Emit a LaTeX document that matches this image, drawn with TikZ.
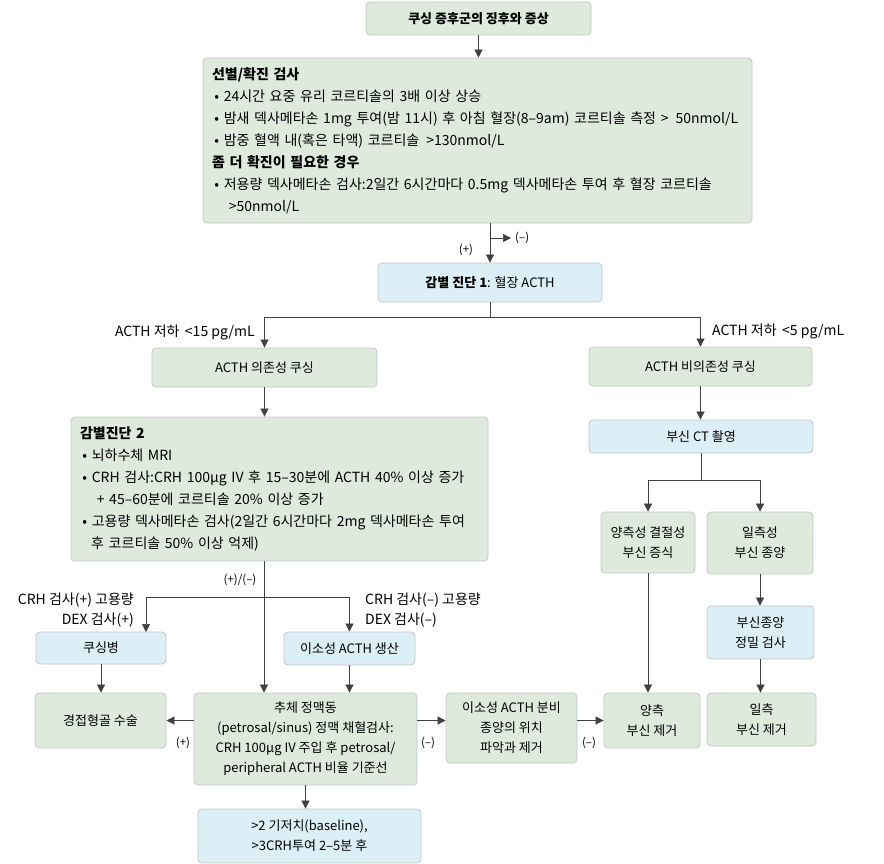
\documentclass[tikz,border=0pt]{standalone}
\usepackage{fontspec}
\setmainfont{Noto Sans CJK KR}
\usetikzlibrary{arrows.meta}

\definecolor{boxgreen}{HTML}{DDEADC}
\definecolor{boxblue}{HTML}{DCEEF6}
\definecolor{boxline}{HTML}{C6C6C6}
\tikzset{
  gbox/.style={draw=boxline,fill=boxgreen,rounded corners=4pt,line width=0.8pt,align=center,inner sep=0pt},
  bbox/.style={gbox,fill=boxblue},
  listbox/.style={gbox,align=left,inner xsep=9pt,font=\fontsize{14}{22}\selectfont},
  link/.style={draw=black!75,line width=0.7pt},
  tag/.style={inner sep=1pt,font=\fontsize{11.5}{13}\selectfont},
  cond/.style={inner sep=1pt,font=\fontsize{14}{20}\selectfont},
}

\begin{document}
\begin{tikzpicture}[x=1pt,y=-1pt,>={Triangle[length=8pt,width=8pt]},font=\fontsize{13}{20}\selectfont]
  \useasboundingbox (0,0) rectangle (884,864);

  % boxes
  \node[gbox,minimum width=225pt,minimum height=33pt] (top) at (478.5,18.5) {\textbf{쿠싱 증후군의 징후와 증상}};
  \node[listbox,text width=531pt,minimum height=165pt] (screen) at (477.5,140.5) {%
    \textbf{선별/확진 검사}\\
    \,• 24시간 요중 유리 코르티솔의 3배 이상 상승\\
    \,• 밤새 덱사메타손 1mg 투여(밤 11시) 후 아침 혈장(8–9am) 코르티솔 측정 > \,50nmol/L\\
    \,• 밤중 혈액 내(혹은 타액) 코르티솔 \,>130nmol/L\\
    \textbf{좀 더 확진이 필요한 경우}\\
    \,• 저용량 덱사메타손 검사:2일간 6시간마다 0.5mg 덱사메타손 투여 후 혈장 코르티솔\\
    \hspace*{1.2em}>50nmol/L};
  \node[bbox,minimum width=224pt,minimum height=39pt] (dd1) at (490,282.5) {\textbf{감별 진단 1}: 혈장 ACTH};
  \node[gbox,minimum width=225pt,minimum height=39pt] (dep) at (264.5,367.5) {ACTH 의존성 쿠싱};
  \node[gbox,minimum width=223pt,minimum height=39pt] (indep) at (700.5,366.5) {ACTH 비의존성 쿠싱};
  \node[listbox,text width=399pt,minimum height=144pt] (dd2) at (279.5,489) {%
    \textbf{감별진단 2}\\
    \,• 뇌하수체 MRI\\
    \,• CRH 검사:CRH 100µg IV 후 15–30분에 ACTH 40\% 이상 증가\\
    \hspace*{1.2em}+ 45–60분에 코르티솔 20\% 이상 증가\\
    \,• 고용량 덱사메타손 검사(2일간 6시간마다 2mg 덱사메타손 투여\\
    \hspace*{0.8em}후 코르티솔 50\% 이상 억제)};
  \node[bbox,minimum width=224pt,minimum height=33pt] (ct) at (701,436.5) {부신 CT 촬영};
  \node[gbox,minimum width=94pt,minimum height=61pt] (bilat) at (648,542.5) {양측성 결절성\\부신 증식};
  \node[gbox,minimum width=106pt,minimum height=62pt] (unilat) at (760,543) {일측성\\부신 종양};
  \node[bbox,minimum width=107pt,minimum height=53pt] (adrtest) at (760.5,632.5) {부신종양\\정밀 검사};
  \node[gbox,minimum width=96pt,minimum height=55pt] (bilrem) at (652,720.5) {양측\\부신 제거};
  \node[gbox,minimum width=109pt,minimum height=53pt] (unirem) at (761.5,719.5) {일측\\부신 제거};
  \node[bbox,minimum width=130pt,minimum height=32pt] (disease) at (101,648) {쿠싱병};
  \node[bbox,minimum width=131pt,minimum height=33pt] (ectopic) at (349.5,648.5) {이소성 ACTH 생산};
  \node[gbox,minimum width=131pt,minimum height=55pt] (surgery) at (100.5,720.5) {경접형골 수술};
  \node[gbox,minimum width=223pt,minimum height=92pt] (ipss) at (305.5,739) {추체 정맥동\\(petrosal/sinus) 정맥 채혈검사:\\CRH 100µg IV 주입 후 petrosal/\\peripheral ACTH 비율 기준선};
  \node[gbox,minimum width=131pt,minimum height=70pt] (ectumor) at (511.5,728) {이소성 ACTH 분비\\종양의 위치\\파악과 제거};
  \node[bbox,minimum width=223pt,minimum height=54pt] (crit) at (309.5,836) {>2 기저치(baseline),\\>3CRH투여 2–5분 후};

  % branch points
  \coordinate (b0) at (490,238);
  \coordinate (neg0) at (511,238);
  \coordinate (b1) at (490,317);
  \coordinate (b2) at (264,597);
  \coordinate (b3) at (701,480);
  \coordinate (cdin) at (146,632);

  % connectors
  \draw[link,->] (top) -- (top |- screen.north);
  \draw[link,->] (dd1 |- screen.south) -- (dd1.north);
  \draw[link,->] (b0) -- (neg0);
  \draw[link] (dd1.south) -- (b1);
  \draw[link,->] (b1) -| (dep);
  \draw[link,->] (b1) -| (indep);
  \draw[link,->] (dep.south) -- (dep |- dd2.north);
  \draw[link,->] (indep.south) -- (indep |- ct.north);
  \draw[link] (ct.south) -- (b3);
  \draw[link,->] (b3) -| (bilat);
  \draw[link,->] (b3) -| (unilat);
  \draw[link,->] (unilat.south) -- (unilat.south |- adrtest.north);
  \draw[link,->] (adrtest.south) -- (adrtest.south |- unirem.north);
  \draw[link,->] (bilat) -- (bilat |- bilrem.north);
  \draw[link,->] (b2 |- dd2.south) -- (b2 |- ipss.north);
  \draw[link,->] (b2) -| (cdin);
  \draw[link,->] (b2) -| (ectopic);
  \draw[link,->] (disease) -- (disease |- surgery.north);
  \draw[link,->] (ectopic) -- (ectopic |- ipss.north);
  \draw[link,->] (ipss.west |- surgery) -- (surgery.east);
  \draw[link,->] (ipss.east |- surgery) -- (ectumor.west |- surgery);
  \draw[link,->] (ectumor.east |- surgery) -- (bilrem.west |- surgery);
  \draw[link,->] (ipss.south) -- (ipss.south |- crit.north);

  % labels
  \node[tag] (pos0) at (466,250) {(+)};
  \node[tag,anchor=west] (neg0t) at (514,238) {(–)};
  \node[cond,anchor=east] (lowA) at (256,332) {ACTH 저하 \,<15 pg/mL};
  \node[cond,anchor=west] (lowB) at (711,331) {ACTH 저하 \,<5 pg/mL};
  \node[tag] (pm) at (240,580) {(+)/(–)};
  \node[cond,anchor=east,align=right] (crhpos) at (135,610) {CRH 검사(+) 고용량\\DEX 검사(+)};
  \node[cond,anchor=west,align=left] (crhneg) at (364,610) {CRH 검사(–) 고용량\\DEX 검사(–)};
  \node[tag] (posS) at (183,743) {(+)};
  \node[tag] (negE) at (428,743) {(–)};
  \node[tag] (negB) at (589,743) {(–)};
\end{tikzpicture}
\end{document}
